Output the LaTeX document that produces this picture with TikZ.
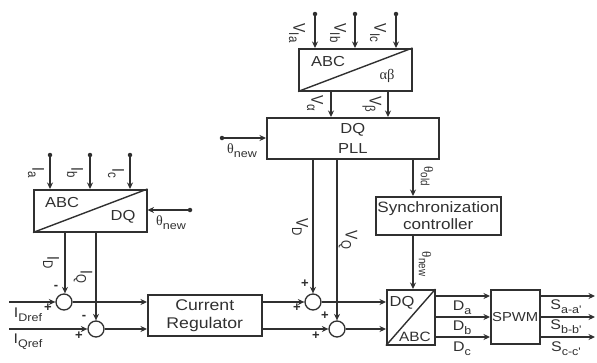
\documentclass[tikz,border=0pt]{standalone}
\usepackage{fontspec}
\setmainfont{Liberation Sans}
\newfontfamily\wide[FakeStretch=1.14]{Liberation Sans}
\newfontfamily\slim[FakeStretch=0.82]{Liberation Sans}
\newfontfamily\grk{Liberation Serif}
\usetikzlibrary{arrows.meta}
\definecolor{ink}{HTML}{303030}
\newcommand{\dn}[1]{\raisebox{-0.28em}{\fontsize{11}{12}\selectfont #1}}
\newcommand{\rdn}[1]{\raisebox{-0.25em}{\fontsize{14}{14}\selectfont #1}}
\newcommand{\thetanew}{{\grk θ}\dn{new}}
\newcommand{\rth}[1]{{\grk\fontsize{13}{14}\selectfont θ}\raisebox{-0.2em}{\fontsize{12}{12}\selectfont #1}}
\tikzset{
  x=1pt,y=-1pt,
  box/.style={draw=ink,line width=1.5pt,inner sep=0pt,anchor=north west,align=center,font=\wide\fontsize{14.5}{17}\selectfont,text=ink},
  sumj/.style={draw=ink,line width=1.3pt,circle,fill=white,minimum size=16pt,inner sep=0pt},
  conn/.style={draw=ink,line width=1.4pt,-{Stealth[length=6.5pt,width=6pt]}},
  plain/.style={draw=ink,line width=1.4pt},
  dot/.style={circle,fill=ink,minimum size=4.5pt,inner sep=0pt},
  lab/.style={font=\wide\fontsize{14}{16}\selectfont,text=ink,inner sep=0pt},
  rlab/.style={font=\slim\fontsize{17}{18}\selectfont,text=ink,inner sep=0pt,rotate=-90},
  sgn/.style={font=\bfseries\fontsize{13}{13}\selectfont,text=ink,inner sep=0pt},
}
\begin{document}
\begin{tikzpicture}
\useasboundingbox (0,0) rectangle (597,362);
% boxes
\node[box,minimum width=113pt,minimum height=42pt] (abcdq) at (33,189) {};
\node[box,minimum width=113pt,minimum height=42pt] (abcab) at (298,48) {};
\node[box,minimum width=172pt,minimum height=41pt,font=\wide\fontsize{14.5}{20}\selectfont] (pll) at (266,117) {DQ\\PLL};
\node[box,minimum width=125pt,minimum height=38pt,font=\wide\fontsize{15}{17}\selectfont] (sync) at (375,196) {Synchronization\\controller};
\node[box,minimum width=114pt,minimum height=41pt,font=\wide\fontsize{15.5}{18}\selectfont] (cr) at (147,294) {Current\\Regulator};
\node[box,minimum width=48pt,minimum height=55pt] (dqabc) at (386,289) {};
\node[box,minimum width=49pt,minimum height=54pt,font=\wide\fontsize{13}{16}\selectfont] (spwm) at (490,289) {SPWM};
% diagonals
\draw[plain] (abcdq.south west) -- (abcdq.north east);
\draw[plain] (abcab.south west) -- (abcab.north east);
\draw[plain] (dqabc.south west) -- (dqabc.north east);
\node[lab,font=\wide\fontsize{14.5}{16}\selectfont] (t1) at (62,203) {ABC};
\node[lab,font=\wide\fontsize{14.5}{16}\selectfont] (t2) at (123,217) {DQ};
\node[lab,font=\wide\fontsize{14.5}{16}\selectfont] (t3) at (328,62) {ABC};
\node[lab,font=\grk\fontsize{14.5}{16}\selectfont] (t4) at (387,76) {αβ};
\node[lab,font=\wide\fontsize{14.5}{16}\selectfont] (t5) at (402,303) {DQ};
\node[lab,font=\wide\fontsize{13.5}{16}\selectfont] (t6) at (415,337) {ABC};
% sums
\node[sumj] (s1) at (64,302) {};
\node[sumj] (s2) at (96,329) {};
\node[sumj] (s3) at (313,302) {};
\node[sumj] (s4) at (337,329) {};
% free ends
\foreach \n/\x/\y in {ia/50/155,ib/90/155,ic/130/155,th1/190/210,va/315/14,vb/355/14,vc/396/14,th2/222/138}
  \node[dot] (\n) at (\x,\y) {};
\coordinate (idr) at (9,302);
\coordinate (iqr) at (9,329);
\coordinate (oa) at (595,296);
\coordinate (ob) at (595,317);
\coordinate (oc) at (595,337);
\coordinate (id) at (65,231);
\coordinate (iq) at (96,231);
\coordinate (valpha) at (331,90);
\coordinate (vbeta) at (388,90);
\coordinate (vd) at (313,158);
\coordinate (vq) at (337,158);
\coordinate (told) at (413,158);
\coordinate (tnew) at (413,234);
\coordinate (d1) at (434,296);
\coordinate (d2) at (434,317);
\coordinate (d3) at (434,337);
\coordinate (s1o) at (539,296);
\coordinate (s2o) at (539,317);
\coordinate (s3o) at (539,337);
% connectors
\foreach \n in {ia,ib,ic} \draw[conn] (\n) -- (\n |- abcdq.north);
\foreach \n in {va,vb,vc} \draw[conn] (\n) -- (\n |- abcab.north);
\draw[conn] (th1) -- (th1 -| abcdq.east);
\draw[conn] (th2) -- (th2 -| pll.west);
\draw[conn] (valpha) -- (valpha |- pll.north);
\draw[conn] (vbeta) -- (vbeta |- pll.north);
\draw[conn] (id) -- (id |- s1.north);
\draw[conn] (iq) -- (s2.north);
\draw[conn] (vd) -- (s3.north);
\draw[conn] (vq) -- (s4.north);
\draw[conn] (idr) -- (s1.west);
\draw[conn] (iqr) -- (s2.west);
\draw[conn] (s1.east) -- (s1.east -| cr.west);
\draw[conn] (s2.east) -- (s2.east -| cr.west);
\draw[conn] (s3 -| cr.east) -- (s3.west);
\draw[conn] (s4 -| cr.east) -- (s4.west);
\draw[conn] (s3.east) -- (s3.east -| dqabc.west);
\draw[conn] (s4.east) -- (s4.east -| dqabc.west);
\draw[conn] (told) -- (told |- sync.north);
\draw[conn] (tnew) -- (tnew |- dqabc.north);
\draw[conn] (d1) -- (d1 -| spwm.west);
\draw[conn] (d2) -- (d2 -| spwm.west);
\draw[conn] (d3) -- (d3 -| spwm.west);
\draw[conn] (s1o) -- (oa);
\draw[conn] (s2o) -- (ob);
\draw[conn] (s3o) -- (oc);
% rotated labels
\node[rlab] (lia) at (36,173) {I\rdn{a}};
\node[rlab] (lib) at (75,173) {I\rdn{b}};
\node[rlab] (lic) at (116,173) {I\rdn{c}};
\node[rlab] (lvia) at (297,33) {V\rdn{Ia}};
\node[rlab] (lvib) at (338,33) {V\rdn{Ib}};
\node[rlab] (lvic) at (378,33) {V\rdn{Ic}};
\node[rlab] (lva) at (315,103) {V\rdn{α}};
\node[rlab] (lvb) at (372,104) {V\rdn{β}};
\node[rlab] (lid) at (51,263) {I\rdn{D}};
\node[rlab] (liq) at (83,277) {I\rdn{Q}};
\node[rlab] (lvd) at (300,227) {V\rdn{D}};
\node[rlab] (lvq) at (348,240) {V\rdn{Q}};
\node[rlab] (lold) at (427,176) {\rth{old}};
\node[rlab] (lnew) at (425,264) {\rth{new}};
% horizontal labels
\node[lab] (lt1) at (171,223) {\thetanew};
\node[lab] (lt2) at (242,151) {\thetanew};
\node[lab] (lidr) at (28,315) {I\dn{Dref}};
\node[lab] (liqr) at (28,342) {I\dn{Qref}};
\node[lab] (lda) at (462,308) {D\dn{a}};
\node[lab] (ldb) at (462,328) {D\dn{b}};
\node[lab] (ldc) at (462,349) {D\dn{c}};
\node[lab] (lsa) at (566,307) {S\dn{a-a'}};
\node[lab] (lsb) at (566,327) {S\dn{b-b'}};
\node[lab] (lsc) at (566,349) {S\dn{c-c'}};
% signs
\node[sgn] (m1) at (56,287) {-};
\node[sgn] (m2) at (84,317) {-};
\node[sgn] (p1) at (48,308) {+};
\node[sgn] (p2) at (79,336) {+};
\node[sgn] (p3) at (305,284) {+};
\node[sgn] (p4) at (297,308) {+};
\node[sgn] (p5) at (325,316) {+};
\node[sgn] (p6) at (316,336) {+};
\end{tikzpicture}
\end{document}
